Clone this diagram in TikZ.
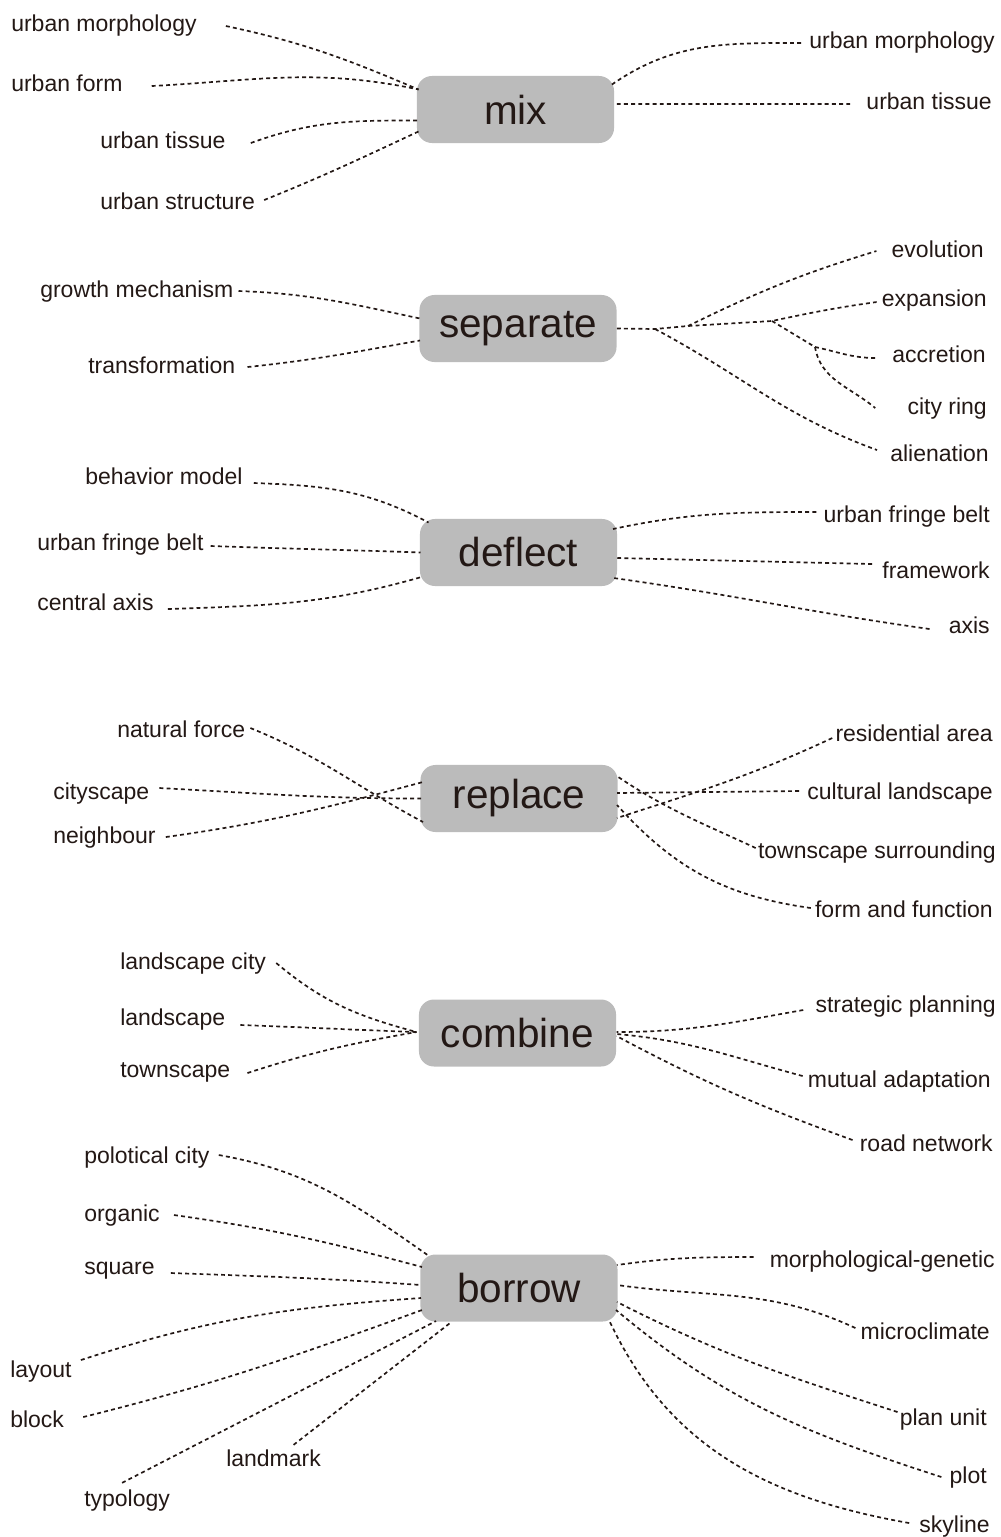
\documentclass[tikz,border=0pt]{standalone}
\usepackage{fontspec}
\setmainfont{Liberation Sans}
\usepackage{tikz}
\usepackage{xcolor}
\usetikzlibrary{calc}

\definecolor{hubgray}{RGB}{187,187,187}
\definecolor{ink}{RGB}{35,24,21}

\begin{document}
\begin{tikzpicture}[x=0.025cm, y=0.025cm,
    hub/.style={fill=hubgray, rounded corners=0.375cm, minimum width=4.925cm,
      minimum height=1.675cm, inner sep=0pt, text=ink,
      font=\fontsize{28.8}{34}\selectfont},
    lbl/.style={inner sep=0pt, text=ink, text height=12pt, text depth=3.5pt,
      font=\fontsize{16.35}{19}\selectfont},
    link/.style={draw=ink, line width=1.2pt, dash pattern=on 2.8pt off 2.3pt}]
                \useasboundingbox (0, 0) rectangle (1000, -1537);

                % mix
                \node[hub] (mix) at (515.5, -109.5) {mix};
                \node[lbl, anchor=base west] (mixL1) at (11, -32) {urban morphology};
                \node[lbl, anchor=base west] (mixL2) at (11, -92) {urban form};
                \node[lbl, anchor=base west] (mixL3) at (100, -149) {urban tissue};
                \node[lbl, anchor=base west] (mixL4) at (100, -209) {urban structure};
                \node[lbl, anchor=base east] (mixR1) at (995, -49) {urban morphology};
                \node[lbl, anchor=base east] (mixR2) at (992, -110) {urban tissue};
                \draw[link]
                ($(mixL1.east)+(29,0)$) edge[out=-12, in=157] ($(mix)+(-97,20)$)
                ($(mixL2.east)+(29,0)$) edge[out=3, in=168] ($(mix)+(-97,20)$)
                ($(mixL3.east)+(25,0)$) edge[out=20, in=180] ($(mix)+(-98,-11)$)
                ($(mixL4.east)+(9,3)$) edge[out=22, in=205] ($(mix)+(-97,-22)$)
                ($(mixR1.west)+(-8,0)$) edge[out=180, in=35] ($(mix)+(95,24)$)
                ($(mixR2.west)+(-16,0)$) edge ($(mix)+(98.5,5.5)$);

                % separate
                \node[hub] (sep) at (518, -328.5) {separate};
                \node[lbl, anchor=base west] (sepL1) at (40, -297) {growth mechanism};
                \node[lbl, anchor=base west] (sepL2) at (88, -373) {transformation};
                \node[lbl, anchor=base east] (sepR1) at (984, -257) {evolution};
                \node[lbl, anchor=base east] (sepR2) at (987, -306) {expansion};
                \node[lbl, anchor=base east] (sepR3) at (986, -362) {accretion};
                \node[lbl, anchor=base east] (sepR4) at (987, -414) {city ring};
                \node[lbl, anchor=base east] (sepR5) at (989, -461) {alienation};
                \coordinate (sepA) at (655, -329);
                \coordinate (sepB) at (688, -326);
                \coordinate (sepC) at (772, -321);
                \coordinate (sepD) at (815, -347);
                \draw[link] (sep.east) -- (sepA) -- (sepB) -- (sepC)
                to[out=12, in=188] ($(sepR2.west)+(-5,-2)$);
                \draw[link]
                ($(sepL1.east)+(5,0)$) edge[out=-2, in=168] ($(sep)+(-98,10)$)
                ($(sepL2.east)+(12,0)$) edge[out=6, in=190] ($(sep)+(-98,-12)$)
                (sepB) edge[out=26, in=197] ($(sepR1.west)+(-15,0)$)
                (sepC) edge (sepD)
                (sepD) edge[out=-12, in=180] ($(sepR3.west)+(-16,-2)$)
                (sepD) edge[out=-80, in=140] ($(sepR4.west)+(-32,0)$)
                (sepA) edge[out=-28, in=160] ($(sepR5.west)+(-13,5)$);

                % deflect
                \node[hub] (def) at (518.5, -552.5) {deflect};
                \node[lbl, anchor=base west] (defL1) at (85, -484) {behavior model};
                \node[lbl, anchor=base west] (defL2) at (37, -550) {urban fringe belt};
                \node[lbl, anchor=base west] (defL3) at (37, -610) {central axis};
                \node[lbl, anchor=base east] (defR1) at (990, -522) {urban fringe belt};
                \node[lbl, anchor=base east] (defR2) at (990, -578) {framework};
                \node[lbl, anchor=base east] (defR3) at (990, -633) {axis};
                \draw[link]
                ($(defL1.east)+(11,-5)$) edge[out=-2, in=152] ($(def)+(-90,30)$)
                ($(defL2.east)+(7,-2)$) edge[out=-2, in=178] ($(def)+(-98,0)$)
                ($(defL3.east)+(14,-5)$) edge[out=2, in=196] ($(def)+(-97,-24.5)$)
                ($(defR1.west)+(-7,4)$) edge[out=180, in=12] ($(def)+(94.5,23.5)$)
                ($(defR2.west)+(-10,8)$) edge ($(def)+(98.5,-5.5)$)
                ($(defR3.west)+(-19,-2)$) edge[out=172, in=-8] ($(def)+(95,-25.5)$);

                % replace
                \node[hub] (rep) at (519, -798.5) {replace};
                \node[lbl, anchor=base west] (repL1) at (117, -737) {natural force};
                \node[lbl, anchor=base west] (repL2) at (53, -799) {cityscape};
                \node[lbl, anchor=base west] (repL3) at (53, -843) {neighbour};
                \node[lbl, anchor=base east] (repR1) at (993, -741) {residential area};
                \node[lbl, anchor=base east] (repR2) at (993, -799) {cultural landscape};
                \node[lbl, anchor=base east] (repR3) at (996, -858) {townscape surrounding};
                \node[lbl, anchor=base east] (repR4) at (993, -917) {form and function};
                \draw[link]
                ($(repL1.east)+(5,3)$) edge[out=-22, in=152] ($(rep)+(-96,-23.5)$)
                ($(repL2.east)+(10,5)$) edge[out=-3, in=180] ($(rep)+(-98,0)$)
                ($(repL3.east)+(10,0)$) edge[out=8, in=195] ($(rep)+(-96,16.5)$)
                ($(repR1.west)+(-3,-3)$) edge[out=-155, in=18] ($(rep)+(98,-19.5)$)
                ($(repR2.west)+(-8,2)$) edge ($(rep)+(98,5.5)$)
                ($(repR3.west)+(-2,4)$) edge[out=155, in=-34] ($(rep)+(97,23)$)
                ($(repR4.west)+(-4,3)$) edge[out=172, in=-48] ($(rep)+(98,-6.5)$);

                % combine
                \node[hub] (com) at (517.5, -1033) {combine};
                \node[lbl, anchor=base west] (comL1) at (120, -969) {landscape city};
                \node[lbl, anchor=base west] (comL2) at (120, -1025) {landscape};
                \node[lbl, anchor=base west] (comL3) at (120, -1077) {townscape};
                \node[lbl, anchor=base east] (comR1) at (996, -1012) {strategic planning};
                \node[lbl, anchor=base east] (comR2) at (991, -1087) {mutual adaptation};
                \node[lbl, anchor=base east] (comR3) at (993, -1151) {road network};
                \draw[link]
                ($(comL1.east)+(10,0)$) edge[out=-40, in=165] ($(com)+(-101,1)$)
                ($(comL2.east)+(15,-6)$) edge[out=-2, in=178] ($(com)+(-101,1)$)
                ($(comL3.east)+(17,-2)$) edge[out=18, in=190] ($(com)+(-101,1)$)
                ($(comR1.west)+(-12,-4)$) edge[out=190, in=0] ($(com)+(99,1)$)
                ($(comR2.west)+(-5,5)$) edge[out=165, in=-5] ($(com)+(99,-1)$)
                ($(comR3.west)+(-7,5)$) edge[out=160, in=-28] ($(com)+(99,-3)$);

                % borrow
                \node[hub] (bor) at (519, -1288) {borrow};
                \node[lbl, anchor=base west] (borL1) at (84, -1163) {polotical city};
                \node[lbl, anchor=base west] (borL2) at (84, -1221) {organic};
                \node[lbl, anchor=base west] (borL3) at (84, -1274) {square};
                \node[lbl, anchor=base west] (borL4) at (10, -1377) {layout};
                \node[lbl, anchor=base west] (borL5) at (10, -1427) {block};
                \node[lbl, anchor=base west] (borL6) at (84, -1506) {typology};
                \node[lbl, anchor=base west] (borL7) at (226, -1466) {landmark};
                \node[lbl, anchor=base east] (borR1) at (995, -1267) {morphological-genetic};
                \node[lbl, anchor=base east] (borR2) at (990, -1339) {microclimate};
                \node[lbl, anchor=base east] (borR3) at (987, -1425) {plan unit};
                \node[lbl, anchor=base east] (borR4) at (987, -1483) {plot};
                \node[lbl, anchor=base east] (borR5) at (990, -1532) {skyline};
                \draw[link]
                ($(borL1.east)+(9,2)$) edge[out=-10, in=145] ($(bor)+(-90,32)$)
                ($(borL2.east)+(14,0)$) edge[out=-8, in=165] ($(bor)+(-97,21)$)
                ($(borL3.east)+(16,-5)$) edge[out=-2, in=176] ($(bor)+(-98,3)$)
                ($(borL4.east)+(9,11)$) edge[out=18, in=184] ($(bor)+(-98,-10)$)
                ($(borL5.east)+(19,4)$) edge[out=14, in=200] ($(bor)+(-97,-22)$)
                ($(borL6.north)+(-5,6)$) edge ($(bor)+(-83,-33)$)
                ($(borL7.north)+(20,4)$) edge ($(bor)+(-67,-33.5)$)
                ($(borR1.west)+(-16,4)$) edge[out=180, in=8] ($(bor)+(98,23)$)
                ($(borR2.west)+(-5,5)$) edge[out=155, in=-8] ($(bor)+(98,3)$)
                ($(borR3.west)+(-2,7)$) edge[out=162, in=-27] ($(bor)+(98,-14)$)
                ($(borR4.west)+(-8,0)$) edge[out=162, in=-40] ($(bor)+(97,-22)$)
                ($(borR5.west)+(-10,3)$) edge[out=170, in=-65] ($(bor)+(90,-32)$);
\end{tikzpicture}
\end{document}
